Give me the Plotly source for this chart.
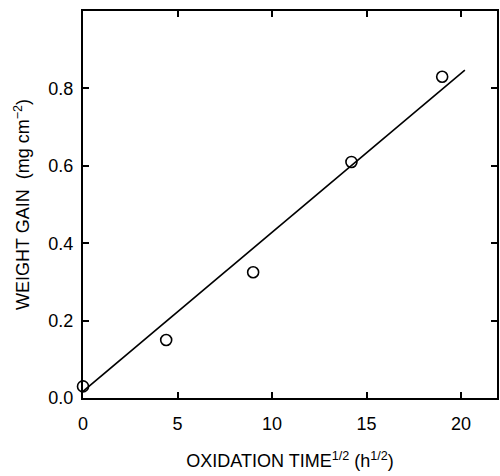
import plotly.graph_objects as go

# Data
time_sqrt = [0.0, 4.4, 9.0, 14.2, 19.0]
weight_gain = [0.03, 0.15, 0.325, 0.61, 0.83]

fit_x = [0.0, 20.2]
fit_y = [0.017, 0.847]

x_ticks = [0, 5, 10, 15, 20]
y_ticks = [0.0, 0.2, 0.4, 0.6, 0.8]
y_tick_labels = ["0.0", "0.2", "0.4", "0.6", "0.8"]

font_family = "Liberation Sans, Arial, sans-serif"

fig = go.Figure()
fig.add_trace(go.Scatter(
    x=fit_x, y=fit_y, mode="lines",
    line=dict(color="black", width=1.6),
    showlegend=False, hoverinfo="skip", cliponaxis=False,
))
fig.add_trace(go.Scatter(
    x=time_sqrt, y=weight_gain, mode="markers",
    marker=dict(symbol="circle-open", size=11, color="black", line=dict(width=1.6)),
    showlegend=False, cliponaxis=False,
))

fig.update_layout(
    width=500, height=476,
    margin=dict(l=83, r=1, t=11, b=78),
    plot_bgcolor="white", paper_bgcolor="white",
    font=dict(family=font_family, color="black", size=16),
    xaxis=dict(
        range=[0, 21.9], tickvals=x_ticks,
        ticks="inside", ticklen=6, tickwidth=1.5, tickcolor="black",
        showline=True, linecolor="black", linewidth=2, mirror="allticks",
        showgrid=False, zeroline=False,
        tickfont=dict(size=18),
        title=dict(text="OXIDATION TIME<sup>1/2</sup> (h<sup>1/2</sup>)",
                   font=dict(size=18), standoff=22),
        ticklabelstandoff=8,
    ),
    yaxis=dict(
        range=[0, 1.0], tickvals=y_ticks, ticktext=y_tick_labels,
        ticks="inside", ticklen=6, tickwidth=1.5, tickcolor="black",
        showline=True, linecolor="black", linewidth=2, mirror="allticks",
        showgrid=False, zeroline=False,
        tickfont=dict(size=18),
        title=dict(text="WEIGHT GAIN  (mg cm<sup>\u22122</sup>)",
                   font=dict(size=18), standoff=14),
        ticklabelstandoff=4,
    ),
)

fig.write_html("out.html")
